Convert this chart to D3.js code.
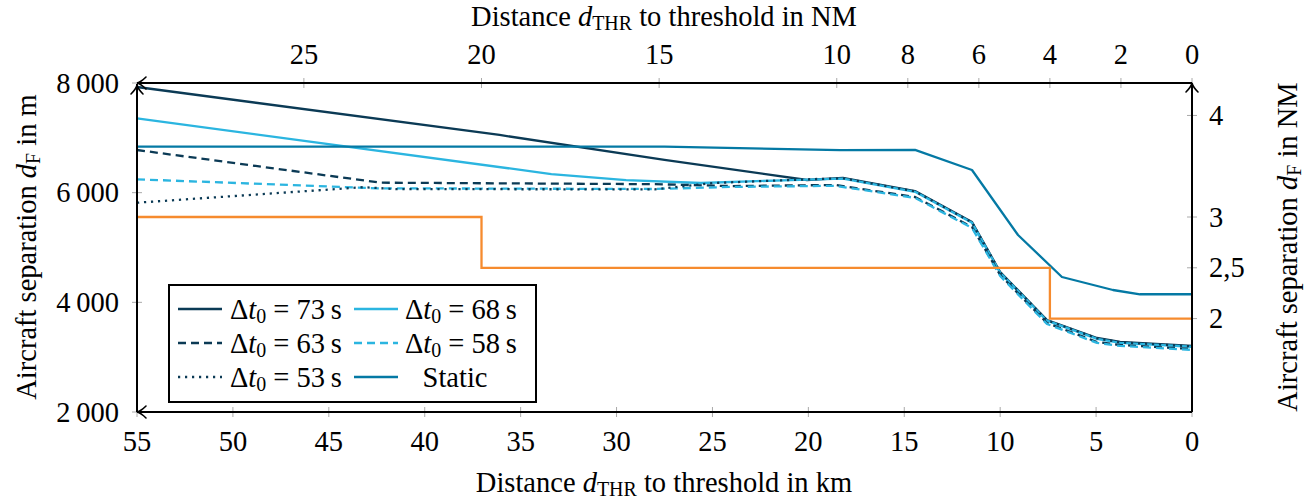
<!DOCTYPE html>
<html><head><meta charset="utf-8">
<script src="https://cdn.jsdelivr.net/npm/d3@7"></script>
<style>
body{margin:0;background:#fff;}
text{font-family:"Liberation Serif","Times New Roman",serif;fill:#000;}
</style></head>
<body><svg id="c" width="1315" height="502"></svg>
<script>
// ---- data ----
const kmTicks = [55,50,45,40,35,30,25,20,15,10,5,0];
const nmTopTicks = [25,20,15,10,8,6,4,2,0];
const mTicks = [2000,4000,6000,8000];
const nmRightTicks = [2,2.5,3,4];
const NM = 1.852;

const km73 = [55,36.1,27.5,20.07,18.2,14.44,11.47,10.0,7.56,4.95,3.75,0];
const m73  = [7927,7052,6600,6231,6268,6030,5465,4553,3678,3350,3277,3204];
const km68 = [55,33.4,29.5,25.6,20.9,18.2,14.44,11.47,10.0,7.56,4.95,3.75,0];
const m68  = [7356,6340,6230,6176,6230,6255,6015,5450,4540,3665,3335,3262,3190];
const km63 = [55,42.3,28,24,18.6,14.44,11.47,10.0,7.56,4.95,3.75,0];
const m63  = [6778,6182,6155,6120,6140,5921,5374,4498,3623,3277,3222,3150];
const km58 = [55,42.5,28,24,18.6,14.44,11.47,10.0,7.56,4.95,3.75,0];
const m58  = [6244,6080,6067,6105,6125,5905,5358,4480,3605,3260,3205,3133];
const km53 = [55,43.2,41.5,28,25,19.5,18.2,14.44,11.47,10.0,7.56,4.95,3.75,0];
const m53  = [5817,6100,6065,6060,6176,6250,6262,6024,5459,4547,3672,3344,3271,3198];
const kmStatic = [55,27.5,18.35,14.44,11.47,9.07,6.78,4.12,2.71,0];
const mStatic  = [6838,6838,6775,6780,6413,5228,4462,4225,4147,4147];
const kmMin = [55,37.04,37.04,7.408,7.408,0];
const nmMin = [3,3,2.5,2.5,2,2];

const legendLabels = ["73","68","63","58","53","Static"];

// ---- layout ----
const svg = d3.select("#c");
const L=137, R=1192, T=83, B=412;
const x = d3.scaleLinear().domain([55,0]).range([L,R]);
const y = d3.scaleLinear().domain([2000,8000]).range([B,T]);

const cDark="#0b3a55", cLight="#2bb5e0", cStatic="#0479a4", cOrange="#f68b2e";
const FS=28.5;

// ticks (gray, crossing axis)
const tk = svg.append("g").attr("stroke","#aaa").attr("stroke-width",1);
kmTicks.forEach(k=>tk.append("line").attr("x1",x(k)).attr("x2",x(k)).attr("y1",B-5).attr("y2",B+5));
nmTopTicks.forEach(n=>tk.append("line").attr("x1",x(n*NM)).attr("x2",x(n*NM)).attr("y1",T-5).attr("y2",T+5));
mTicks.forEach(v=>tk.append("line").attr("x1",L-5).attr("x2",L+5).attr("y1",y(v)).attr("y2",y(v)));
nmRightTicks.forEach(n=>tk.append("line").attr("x1",R-5).attr("x2",R+5).attr("y1",y(n*1852)).attr("y2",y(n*1852)));

// tick labels
const fmt = v => { const s=String(v); return s.length>3 ? s.slice(0,-3)+"\u2009"+s.slice(-3) : s; };
kmTicks.forEach(k=>svg.append("text").attr("x",x(k)).attr("y",451).attr("text-anchor","middle").attr("font-size",FS).text(k));
nmTopTicks.forEach(n=>svg.append("text").attr("x",x(n*NM)).attr("y",64).attr("text-anchor","middle").attr("font-size",FS).text(n));
mTicks.forEach(v=>svg.append("text").attr("x",L-18).attr("y",y(v)+9.5).attr("text-anchor","end").attr("font-size",FS).text(fmt(v)));
nmRightTicks.forEach(n=>svg.append("text").attr("x",R+17).attr("y",y(n*1852)+9.5).attr("text-anchor","start").attr("font-size",FS).text(String(n).replace(".",",")));

// axis titles
function title(sel, pre, sub, post){
  const t = sel;
  t.append("tspan").text(pre);
  t.append("tspan").attr("font-style","italic").text("d");
  t.append("tspan").attr("font-size",FS*0.7).attr("dy",4).text(sub);
  t.append("tspan").attr("dy",-4).text(post);
  return t;
}
title(svg.append("text").attr("x",664).attr("y",26).attr("text-anchor","middle").attr("font-size",FS),"Distance ","THR"," to threshold in NM");
title(svg.append("text").attr("x",664).attr("y",492).attr("text-anchor","middle").attr("font-size",FS),"Distance ","THR"," to threshold in km");
title(svg.append("text").attr("transform","translate(36,247) rotate(-90)").attr("text-anchor","middle").attr("font-size",FS),"Aircraft separation ","F"," in m");
title(svg.append("text").attr("transform","translate(1297,247) rotate(-90)").attr("text-anchor","middle").attr("font-size",FS),"Aircraft separation ","F"," in NM");

// series
const line = d3.line().x(d=>x(d[0])).y(d=>y(d[1]));
const series = [
  {km:km73, m:m73, c:cDark, dash:null},
  {km:km68, m:m68, c:cLight, dash:null},
  {km:km63, m:m63, c:cDark, dash:"8,5"},
  {km:km58, m:m58, c:cLight, dash:"8,5"},
  {km:km53, m:m53, c:cDark, dash:"2.2,4.8"},
  {km:kmStatic, m:mStatic, c:cStatic, dash:null}
];
const plot = svg.append("g");
series.forEach(s=>{
  plot.append("path").datum(s.km.map((k,i)=>[k,s.m[i]]))
    .attr("d",line).attr("fill","none").attr("stroke",s.c).attr("stroke-width",2.3)
    .attr("stroke-dasharray",s.dash).attr("stroke-linejoin","round");
});
plot.append("path").datum(kmMin.map((k,i)=>[k,nmMin[i]*1852]))
  .attr("d",line).attr("fill","none").attr("stroke",cOrange).attr("stroke-width",2.3);

// axes lines
const ax = svg.append("g").attr("stroke","#000").attr("stroke-width",2).attr("fill","none");
ax.append("line").attr("x1",L).attr("x2",R).attr("y1",T).attr("y2",T);
ax.append("line").attr("x1",L).attr("x2",R).attr("y1",B).attr("y2",B);
ax.append("line").attr("x1",L).attr("x2",L).attr("y1",B).attr("y2",T+1);
ax.append("line").attr("x1",R).attr("x2",R).attr("y1",B).attr("y2",T+1);
function arrowLeft(x0,y0){ax.append("path").attr("stroke-width",1.6).attr("stroke-linecap","round")
  .attr("d",`M${x0+9},${y0-6} Q${x0+4},${y0-1} ${x0},${y0} Q${x0+4},${y0+1} ${x0+9},${y0+6}`);}
function arrowUp(x0,y0){ax.append("path").attr("stroke-width",1.6).attr("stroke-linecap","round")
  .attr("d",`M${x0-6},${y0+9} Q${x0-1},${y0+4} ${x0},${y0} Q${x0+1},${y0+4} ${x0+6},${y0+9}`);}
arrowLeft(L,T); arrowLeft(L,B); arrowUp(L,T+2); arrowUp(R,T);

// legend
const lg = svg.append("g");
lg.append("rect").attr("x",169).attr("y",285).attr("width",367).attr("height",117)
  .attr("fill","#fff").attr("stroke","#000").attr("stroke-width",2);
const cols=[{lx:178,tx:230},{lx:354,tx:405}];
const rows=[309,343,377];
series.forEach((s,i)=>{
  const c=cols[i%2], r=rows[Math.floor(i/2)];
  lg.append("line").attr("x1",c.lx).attr("x2",c.lx+44).attr("y1",r).attr("y2",r)
    .attr("stroke",s.c).attr("stroke-width",2.3).attr("stroke-dasharray",s.dash);
  const t = lg.append("text").attr("y",r+10).attr("font-size",FS);
  if(legendLabels[i]==="Static"){
    t.attr("x",c.tx+50).attr("text-anchor","middle").text("Static");
  } else {
    t.attr("x",c.tx);
    t.append("tspan").text("\u0394");
    t.append("tspan").attr("font-style","italic").text("t");
    t.append("tspan").attr("font-size",FS*0.7).attr("dy",4).text("0");
    t.append("tspan").attr("dy",-4).text(" = "+legendLabels[i]+"\u2009s");
  }
});
</script></body></html>
